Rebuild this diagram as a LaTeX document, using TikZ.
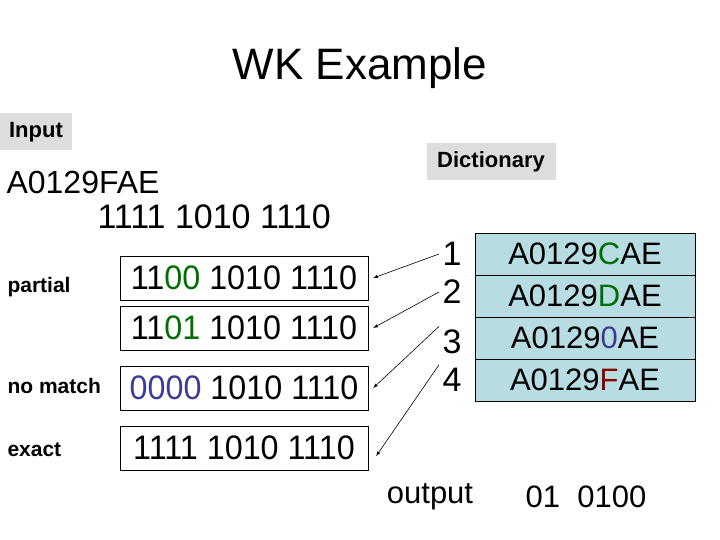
\documentclass[tikz,border=0pt]{standalone}
\usepackage{fontspec}
\setmainfont{Liberation Sans}
\usepackage{tikz}
\tikzset{>=latex}
\definecolor{dictblue}{RGB}{183,221,227}
\definecolor{labelgray}{RGB}{221,221,221}
\definecolor{hitgreen}{RGB}{0,110,0}
\definecolor{missblue}{RGB}{60,60,150}
\definecolor{exactred}{RGB}{140,0,0}
\tikzset{
  word/.style={draw,minimum width=248pt,minimum height=44pt,inner sep=0pt,font=\fontsize{34}{34}\selectfont},
  entry/.style={draw,fill=dictblue,minimum width=220pt,minimum height=42pt,inner sep=0pt,font=\fontsize{31}{31}\selectfont},
  kind/.style={anchor=west,font=\fontsize{21}{21}\selectfont\bfseries},
  tag/.style={fill=labelgray,inner sep=5pt,font=\fontsize{22}{22}\selectfont\bfseries},
  num/.style={font=\fontsize{34}{34}\selectfont}
}
\begin{document}
\begin{tikzpicture}[x=1pt,y=-1pt]
            \useasboundingbox (0,0) rectangle (720,540);
            \node (title) at (360,68) {\fontsize{44}{44}\selectfont WK Example};
            \node[tag,minimum width=72pt,minimum height=37pt] (inp) at (36,132) {Input};
            \node[tag,minimum width=129pt,minimum height=37pt] (dict) at (491,162) {Dictionary};
            \node[anchor=west,font=\fontsize{32}{32}\selectfont] (key) at (3,182) {A0129FAE};
            \node[anchor=west,font=\fontsize{34}{34}\selectfont] (bits) at (94,217) {1111 1010 1110};
            % candidate words
            \node[word] (w1) at (244,278) {\scalebox{0.95}[1]{11\textcolor{hitgreen}{00} 1010 1110}};
            \node[word] (w2) at (244,328) {\scalebox{0.95}[1]{11\textcolor{hitgreen}{01} 1010 1110}};
            \node[word] (w3) at (244,388) {\scalebox{0.95}[1]{\textcolor{missblue}{0000} 1010 1110}};
            \node[word] (w4) at (244,448) {\scalebox{0.95}[1]{1111 1010 1110}};
            \node[kind] (l1) at (4,287) {partial};
            \node[kind] (l3) at (4,386) {no match};
            \node[kind] (l4) at (4,450) {exact};
            % dictionary
            \node[entry] (d1) at (585,254) {A0129\textcolor{hitgreen}{C}AE};
            \node[entry] (d2) at (585,296) {A0129\textcolor{hitgreen}{D}AE};
            \node[entry] (d3) at (585,338) {A0129\textcolor{missblue}{0}AE};
            \node[entry] (d4) at (585,380) {A0129\textcolor{exactred}{F}AE};
            \node[num] (n1) at (452,254) {1};
            \node[num] (n2) at (452,292) {2};
            \node[num] (n3) at (452,342) {3};
            \node[num] (n4) at (452,380) {4};
            \draw[->,semithick] (n1.west) -- ([xshift=5pt]w1.east);
            \draw[->,semithick] (n2.west) -- ([xshift=5pt]w2.east);
            \draw[->,semithick] (n3.north west) -- ([xshift=5pt]w3.east);
            \draw[->,semithick] (n4.north west) -- ([xshift=8pt,yshift=-8pt]w4.east);
            \node[font=\fontsize{31}{31}\selectfont] (out) at (430,497) {output};
            \node[font=\fontsize{31}{31}\selectfont] (code) at (586,497) {01~~0100};
        \end{tikzpicture}
\end{document}
